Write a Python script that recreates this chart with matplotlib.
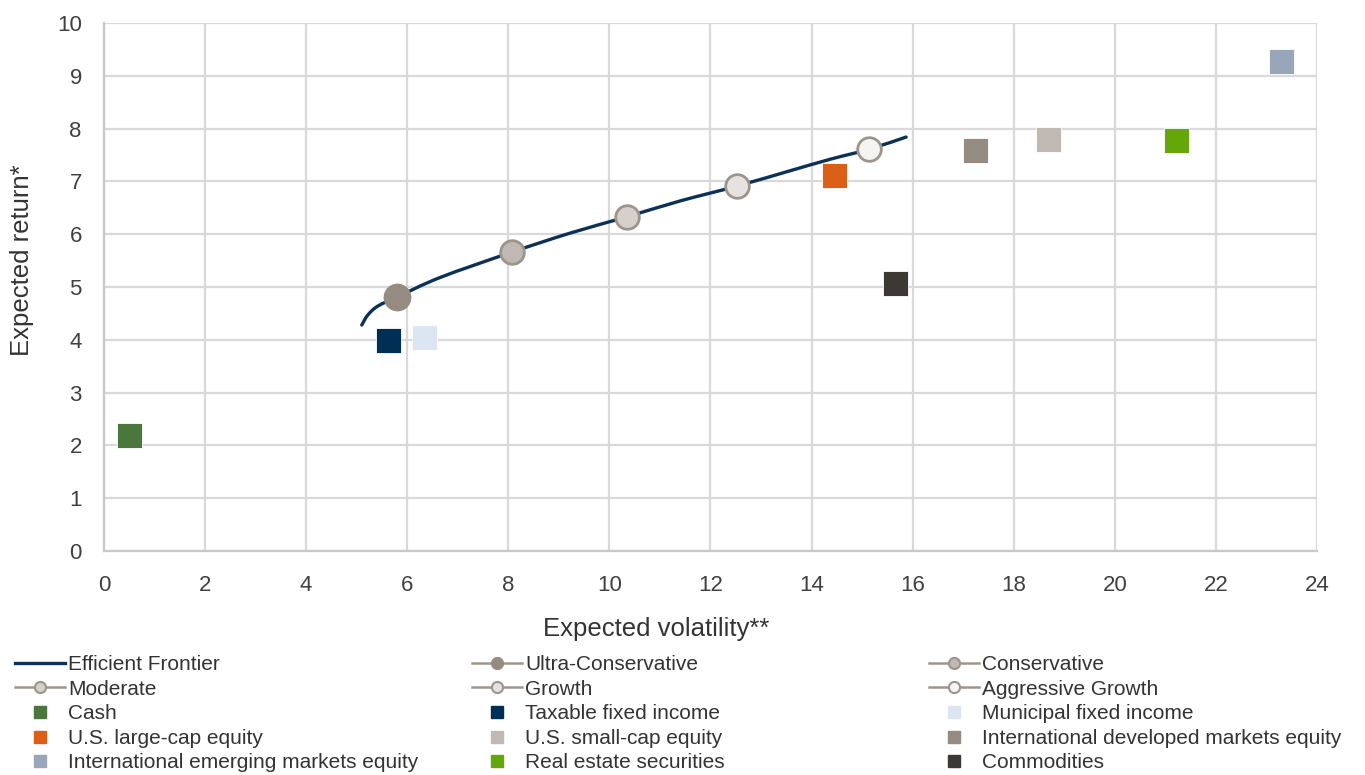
import matplotlib
matplotlib.use("Agg")
import matplotlib.pyplot as plt
from matplotlib.lines import Line2D
from matplotlib.path import Path
from matplotlib.patches import PathPatch

# Asset classes: expected volatility (%) and expected return (%)
asset_names = ["Cash", "Taxable fixed income", "Municipal fixed income",
               "U.S. large-cap equity", "U.S. small-cap equity",
               "International developed markets equity",
               "International emerging markets equity",
               "Real estate securities", "Commodities"]
asset_vol = [0.5, 5.62, 6.33, 14.44, 18.68, 17.23, 23.29, 21.21, 15.65]
asset_ret = [2.2, 4.0, 4.05, 7.12, 7.8, 7.6, 9.28, 7.78, 5.08]
asset_colors = ["#4a773c", "#002f56", "#dce6f2", "#dc5f18", "#c0b8b2",
                "#968b80", "#97a6b8", "#63a70a", "#3c3833"]

# Model portfolios sitting on the frontier
profile_names = ["Ultra-Conservative", "Conservative", "Moderate",
                 "Growth", "Aggressive Growth"]
profile_vol = [5.80, 8.07, 10.35, 12.52, 15.14]
profile_ret = [4.81, 5.66, 6.33, 6.91, 7.61]
profile_fill = ["#968b80", "#c0b8b2", "#d5d0cb", "#e6e2df", "#f6f4f3"]

# Efficient frontier curve
frontier_vol = [5.10, 5.22, 5.42, 5.80, 6.65, 8.07, 9.22, 10.35,
                11.40, 12.52, 13.57, 14.37, 15.14, 15.87]
frontier_ret = [4.28, 4.47, 4.64, 4.81, 5.18, 5.66, 6.02, 6.33,
                6.63, 6.91, 7.20, 7.42, 7.61, 7.84]

x_ticks = list(range(0, 25, 2))
y_ticks = list(range(0, 11))

TEXT = "#404040"
GRID = "#d9d9d9"
NAVY = "#0b3157"
EDGE = "#9d948b"

plt.rcParams["font.family"] = ["Liberation Sans", "DejaVu Sans"]


def smooth_path(ax, xs, ys, tension=6.0):
    """Catmull-Rom style smoothed line through the points, built in display space."""
    pts = ax.transData.transform(list(zip(xs, ys)))
    n = len(pts)
    verts = [tuple(pts[0])]
    codes = [Path.MOVETO]
    for i in range(n - 1):
        p0 = pts[max(i - 1, 0)]
        p1 = pts[i]
        p2 = pts[i + 1]
        p3 = pts[min(i + 2, n - 1)]
        c1 = p1 + (p2 - p0) / tension
        c2 = p2 - (p3 - p1) / tension
        verts += [tuple(c1), tuple(c2), tuple(p2)]
        codes += [Path.CURVE4] * 3
    return Path(verts, codes)


fig = plt.figure(figsize=(13.65, 7.75), dpi=100)
ax = fig.add_axes([104 / 1365, 1 - 551 / 775, (1317 - 104) / 1365, (551 - 23) / 775])

ax.set_xlim(0, 24)
ax.set_ylim(0, 10)
ax.set_xticks(x_ticks)
ax.set_yticks(y_ticks)
ax.grid(True, color=GRID, linewidth=1.6, zorder=0)
ax.set_axisbelow(True)
for side in ["top", "right"]:
    ax.spines[side].set_visible(False)
for side in ["left", "bottom"]:
    ax.spines[side].set_color("#c8c8c8")
    ax.spines[side].set_linewidth(1.6)
ax.tick_params(length=0, labelsize=16, colors=TEXT)
ax.tick_params(axis="y", pad=16)
ax.tick_params(axis="x", pad=17)
ax.set_xlabel("Expected volatility**", fontsize=18.5, color="#333333")
ax.set_ylabel("Expected return*", fontsize=18.5, color="#333333")
ax.xaxis.set_label_coords((656 - 104) / 1213, (551 - 617) / 528)
ax.yaxis.set_label_coords((34 - 104) / 1213, (551 - 260) / 528)

frontier = PathPatch(smooth_path(ax, frontier_vol, frontier_ret), transform=None,
                     facecolor="none", edgecolor=NAVY, linewidth=2.4,
                     capstyle="round", zorder=3)
ax.add_artist(frontier)

for i, name in enumerate(profile_names):
    edge = profile_fill[i] if i == 0 else EDGE
    ax.plot(profile_vol[i], profile_ret[i], marker="o", markersize=18 if i == 0 else 17,
            markerfacecolor=profile_fill[i], markeredgecolor=edge,
            markeredgewidth=2, linestyle="none", zorder=4)

for i, name in enumerate(asset_names):
    ax.plot(asset_vol[i], asset_ret[i], marker="s", markersize=18,
            markerfacecolor=asset_colors[i], markeredgecolor="white",
            markeredgewidth=0.6, linestyle="none", zorder=4)

# Legend entries, laid out row by row in three columns
entries = [Line2D([], [], color=NAVY, linewidth=2.4)]
labels = ["Efficient Frontier"]
for i, name in enumerate(profile_names):
    edge = profile_fill[i] if i == 0 else EDGE
    entries.append(Line2D([], [], color="#a0968c", linewidth=1.8, marker="o",
                          markersize=8, markerfacecolor=profile_fill[i],
                          markeredgecolor=edge, markeredgewidth=1.5))
    labels.append(name)
for i, name in enumerate(asset_names):
    entries.append(Line2D([], [], linestyle="none", marker="s", markersize=8,
                          markerfacecolor=asset_colors[i],
                          markeredgecolor=asset_colors[i]))
    labels.append(name)

col_x = [15 / 1365, 472 / 1365, 929 / 1365]
for c in range(3):
    leg = fig.legend(entries[c::3], labels[c::3], loc="upper left",
                     bbox_to_anchor=(col_x[c], 1 - 655 / 775),
                     frameon=False, fontsize=15, handlelength=2.4,
                     handletextpad=0.15, labelspacing=0.27, borderpad=0,
                     borderaxespad=0)
    for t in leg.get_texts():
        t.set_color("#333333")

fig.savefig("out.png", dpi=100)
